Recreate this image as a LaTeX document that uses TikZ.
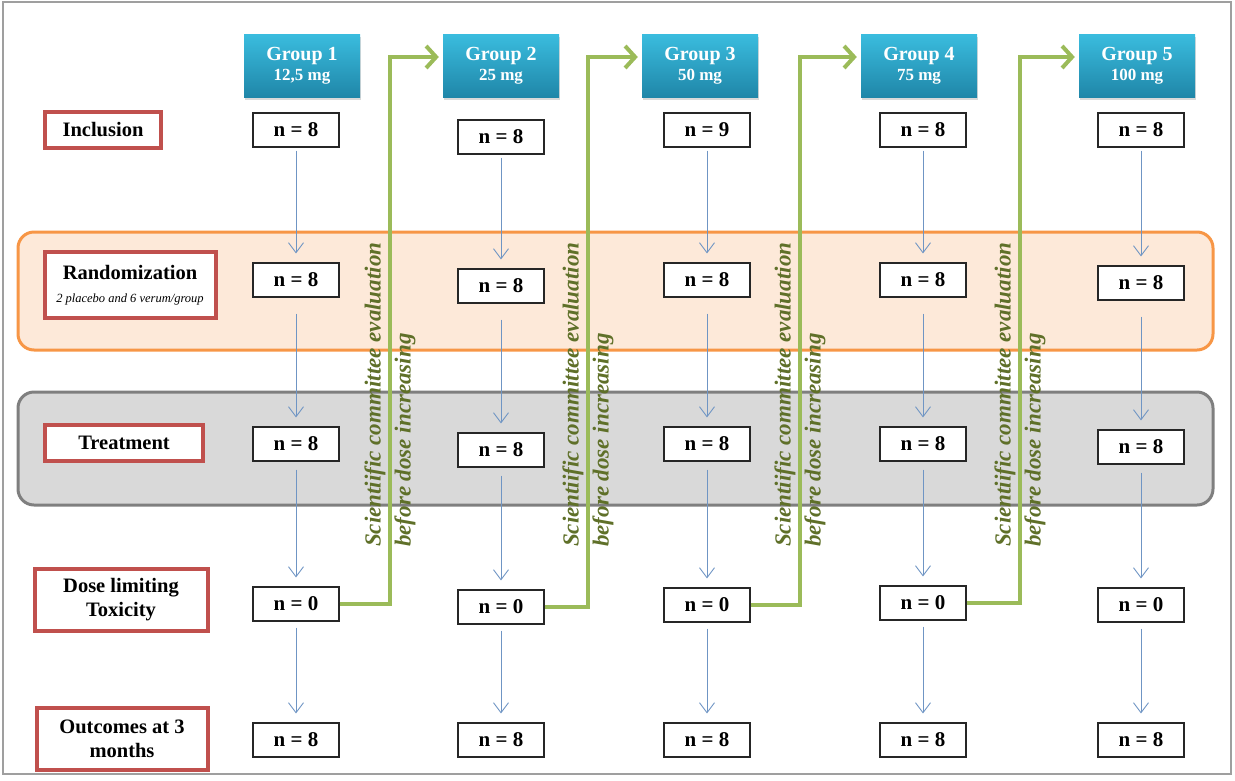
\documentclass[tikz,border=0pt]{standalone}
\usepackage{fontspec}
\setmainfont{Liberation Serif}
\usetikzlibrary{arrows.meta, shadows, positioning}
\definecolor{hdtop}{HTML}{3ABCDE}
\definecolor{hdbot}{HTML}{1F86A8}
\definecolor{redbox}{HTML}{C0504D}
\definecolor{bandor}{HTML}{F79646}
\definecolor{bandorfill}{HTML}{FDE9D9}
\definecolor{bandgr}{HTML}{7F7F7F}
\definecolor{bandgrfill}{HTML}{D9D9D9}
\definecolor{escgreen}{HTML}{9BBB59}
\definecolor{esctext}{HTML}{5F7029}
\definecolor{flowblue}{HTML}{6F95C4}

\begin{document}
\begin{tikzpicture}[
    x=1pt, y=-1pt,
    grp/.style={rectangle, top color=hdtop, bottom color=hdbot, draw=none,
                minimum width=116pt, minimum height=63pt, text=white, align=center,
                font=\bfseries\fontsize{20}{20}\selectfont,
                drop shadow={shadow xshift=1pt, shadow yshift=-2pt, opacity=0.3}},
    nbox/.style={rectangle, draw=black!85, line width=1.1pt, fill=white,
                 minimum width=86pt, minimum height=34pt,
                 font=\bfseries\fontsize{21}{22}\selectfont},
    stage/.style={rectangle, draw=redbox, line width=4pt, fill=white, align=center,
                  font=\bfseries\fontsize{20.5}{24}\selectfont,
                  drop shadow={shadow xshift=1pt, shadow yshift=-1pt, opacity=0.15}},
    band/.style={rounded corners=16pt, line width=3pt, draw=#1, fill=#1fill},
    flow/.style={-{Straight Barb[length=10pt,width=15pt]}, draw=flowblue,
                 line width=0.9pt, shorten <=3pt, shorten >=9pt},
    esc/.style={-{Straight Barb[length=10pt,width=22pt]}, draw=escgreen,
                line width=4pt, shorten >=4pt},
    esclbl/.style={rotate=90, anchor=west, align=left, text=esctext, inner sep=0pt,
                   font=\bfseries\itshape\fontsize{23}{30}\selectfont}
]
\useasboundingbox (0,0) rectangle (1235,780);
\draw[gray!75, line width=1.5pt] (3,2) rectangle (1231,774);

% --- phase bands ---
\draw[band=bandor] (18,232) rectangle (1213,350);
\draw[band=bandgr] (18,392) rectangle (1213,505);

% --- dose groups ---
\node[grp] (g1) at (302,66) {Group 1\\{\fontsize{17}{18}\selectfont 12,5 mg}};
\node[grp] (g2) at (501,66) {Group 2\\{\fontsize{17}{18}\selectfont 25 mg}};
\node[grp] (g3) at (700,66) {Group 3\\{\fontsize{17}{18}\selectfont 50 mg}};
\node[grp] (g4) at (919,66) {Group 4\\{\fontsize{17}{18}\selectfont 75 mg}};
\node[grp] (g5) at (1137,66) {Group 5\\{\fontsize{17}{18}\selectfont 100 mg}};

% --- stages ---
\node[stage, minimum width=116pt, minimum height=36pt] (incl) at (103,130) {Inclusion};
\node[stage, minimum width=171pt, minimum height=66pt] (rand) at (130,285)
    {Randomization\\[-1pt]{\mdseries\itshape\fontsize{12.5}{14}\selectfont 2 placebo and 6 verum/group}};
\node[stage, minimum width=158pt, minimum height=36pt] (treat) at (124,443) {Treatment};
\node[stage, minimum width=173pt, minimum height=62pt] (dlt) at (121,600) {Dose limiting\\Toxicity};
\node[stage, minimum width=171pt, minimum height=62pt] (outc) at (122,739) {Outcomes at 3\\months};

% --- group 1 ---
\node[nbox] (i1) at (296,130) {n = 8};
\node[nbox] (r1) at (296,280) {n = 8};
\node[nbox] (t1) at (296,444) {n = 8};
\node[nbox] (d1) at (296,604) {n = 0};
\node[nbox] (o1) at (296,740) {n = 8};

% --- group 2 ---
\node[nbox] (i2) at (501,137) {n = 8};
\node[nbox] (r2) at (501,286) {n = 8};
\node[nbox] (t2) at (501,450) {n = 8};
\node[nbox] (d2) at (501,607) {n = 0};
\node[nbox] (o2) at (501,740) {n = 8};

% --- group 3 ---
\node[nbox] (i3) at (707,130) {n = 9};
\node[nbox] (r3) at (707,280) {n = 8};
\node[nbox] (t3) at (707,444) {n = 8};
\node[nbox] (d3) at (707,605) {n = 0};
\node[nbox] (o3) at (707,740) {n = 8};

% --- group 4 ---
\node[nbox] (i4) at (923,130) {n = 8};
\node[nbox] (r4) at (923,280) {n = 8};
\node[nbox] (t4) at (923,444) {n = 8};
\node[nbox] (d4) at (923,603) {n = 0};
\node[nbox] (o4) at (923,740) {n = 8};

% --- group 5 ---
\node[nbox] (i5) at (1141,130) {n = 8};
\node[nbox] (r5) at (1141,283) {n = 8};
\node[nbox] (t5) at (1141,447) {n = 8};
\node[nbox] (d5) at (1141,605) {n = 0};
\node[nbox] (o5) at (1141,740) {n = 8};

% --- patient flow ---
\draw[flow] (i1) -- (r1);  \draw[flow, shorten <=16pt] (r1) -- (t1);
\draw[flow, shorten <=8pt] (t1) -- (d1);  \draw[flow, shorten <=6pt] (d1) -- (o1);
\draw[flow] (i2) -- (r2);  \draw[flow, shorten <=16pt] (r2) -- (t2);
\draw[flow, shorten <=8pt] (t2) -- (d2);  \draw[flow, shorten <=6pt] (d2) -- (o2);
\draw[flow] (i3) -- (r3);  \draw[flow, shorten <=16pt] (r3) -- (t3);
\draw[flow, shorten <=8pt] (t3) -- (d3);  \draw[flow, shorten <=6pt] (d3) -- (o3);
\draw[flow] (i4) -- (r4);  \draw[flow, shorten <=16pt] (r4) -- (t4);
\draw[flow, shorten <=8pt] (t4) -- (d4);  \draw[flow, shorten <=6pt] (d4) -- (o4);
\draw[flow] (i5) -- (r5);  \draw[flow, shorten <=16pt] (r5) -- (t5);
\draw[flow, shorten <=8pt] (t5) -- (d5);  \draw[flow, shorten <=6pt] (d5) -- (o5);

% --- committee evaluation before escalation ---
\coordinate (k1) at (390,57);
\coordinate (k2) at (588,57);
\coordinate (k3) at (800,57);
\coordinate (k4) at (1020,57);
\node[esclbl] (e1) at (390,547) {Scientiific committee evaluation\\before dose increasing};
\node[esclbl] (e2) at (588,547) {Scientiific committee evaluation\\before dose increasing};
\node[esclbl] (e3) at (800,547) {Scientiific committee evaluation\\before dose increasing};
\node[esclbl] (e4) at (1020,547) {Scientiific committee evaluation\\before dose increasing};
\draw[esc] (d1.east) -| (k1) -- (g2.west |- k1);
\draw[esc] (d2.east) -| (k2) -- (g3.west |- k2);
\draw[esc] (d3.east) -| (k3) -- (g4.west |- k3);
\draw[esc] (d4.east) -| (k4) -- (g5.west |- k4);

\end{tikzpicture}
\end{document}
